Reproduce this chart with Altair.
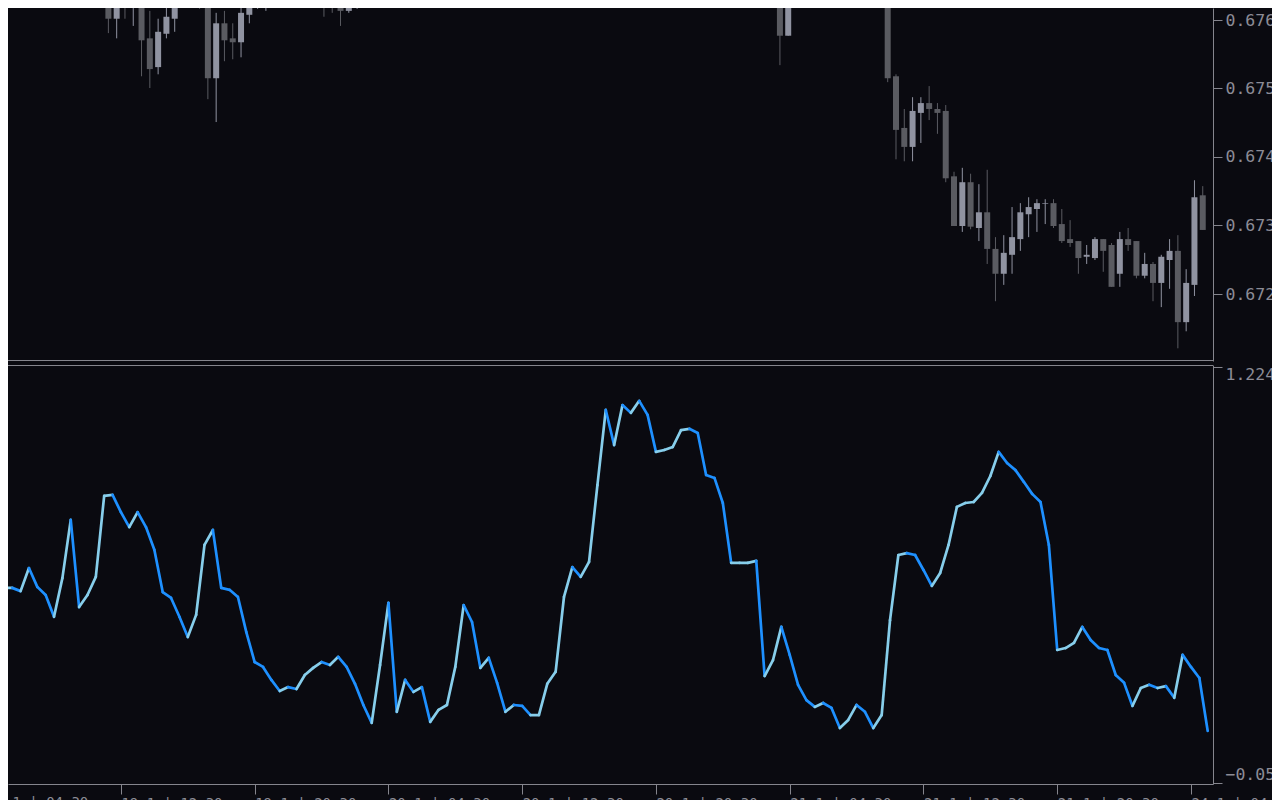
import altair as alt
import pandas as pd

BG = "#0a0a10"
FRAME = "#85858d"
TEXT = "#8c8c96"
CANDLE_UP = "#9093a1"
CANDLE_DN = "#5a5b61"
LINE_UP = "#87ceeb"
LINE_DN = "#1e90ff"

# ---- candles (bar index, open, high, low, close) ----
bar_idx = [9, 13, 14, 15, 16, 17, 18, 19, 20, 21, 24, 25, 26, 27, 28, 29, 30, 31, 32,
           38, 39, 40, 41, 42, 43, 93, 94, 95,
           107, 108, 109, 110, 111, 112, 113, 114, 115, 116, 117, 118, 119, 120, 121,
           122, 123, 124, 125, 126, 127, 128, 129, 130, 131, 132, 133, 134, 135, 136,
           137, 138, 139, 140, 141, 142, 143, 144, 145]
opens = [0.67704, 0.67696, 0.67652, 0.67693, 0.67676, 0.67688, 0.67622, 0.67578, 0.67629, 0.67652,
         0.67711, 0.67696, 0.67561, 0.67645, 0.67622, 0.67616, 0.67658, 0.67670, 0.67688,
         0.67696, 0.67704, 0.67688, 0.67673, 0.67664, 0.67685, 0.67696, 0.67696, 0.67626,
         0.67688, 0.67564, 0.67485, 0.67456, 0.67508, 0.67523, 0.67514, 0.67511, 0.67411,
         0.67335, 0.67402, 0.67332, 0.67356, 0.67300, 0.67262, 0.67291, 0.67315, 0.67353,
         0.67361, 0.67369, 0.67370, 0.67338, 0.67315, 0.67312, 0.67288, 0.67286, 0.67315,
         0.67306, 0.67262, 0.67315, 0.67312, 0.67259, 0.67277, 0.67248, 0.67283, 0.67297,
         0.67188, 0.67245, 0.67382]
highs = [0.67742, 0.67711, 0.67696, 0.67704, 0.67711, 0.67704, 0.67664, 0.67652, 0.67688, 0.67704,
         0.67726, 0.67704, 0.67661, 0.67664, 0.67645, 0.67670, 0.67688, 0.67699, 0.67711,
         0.67719, 0.67711, 0.67696, 0.67676, 0.67693, 0.67699, 0.67711, 0.67704, 0.67696,
         0.67696, 0.67567, 0.67514, 0.67532, 0.67532, 0.67549, 0.67523, 0.67520, 0.67418,
         0.67424, 0.67415, 0.67399, 0.67421, 0.67318, 0.67321, 0.67364, 0.67370, 0.67379,
         0.67376, 0.67376, 0.67376, 0.67361, 0.67344, 0.67312, 0.67306, 0.67318, 0.67315,
         0.67309, 0.67326, 0.67332, 0.67312, 0.67294, 0.67280, 0.67291, 0.67315, 0.67321,
         0.67269, 0.67405, 0.67396]
lows = [0.67676, 0.67630, 0.67622, 0.67652, 0.67641, 0.67564, 0.67546, 0.67567, 0.67622, 0.67632,
        0.67667, 0.67529, 0.67494, 0.67587, 0.67590, 0.67593, 0.67645, 0.67667, 0.67664,
        0.67676, 0.67655, 0.67661, 0.67641, 0.67661, 0.67667, 0.67676, 0.67581, 0.67626,
        0.67555, 0.67437, 0.67434, 0.67434, 0.67462, 0.67497, 0.67476, 0.67402, 0.67335,
        0.67326, 0.67330, 0.67312, 0.67277, 0.67220, 0.67245, 0.67262, 0.67297, 0.67318,
        0.67326, 0.67338, 0.67332, 0.67309, 0.67303, 0.67262, 0.67277, 0.67283, 0.67265,
        0.67242, 0.67242, 0.67297, 0.67255, 0.67255, 0.67220, 0.67211, 0.67239, 0.67148,
        0.67174, 0.67228, 0.67329]
closes = [0.67726, 0.67652, 0.67688, 0.67676, 0.67696, 0.67619, 0.67575, 0.67632, 0.67655, 0.67688,
          0.67696, 0.67561, 0.67645, 0.67619, 0.67616, 0.67661, 0.67673, 0.67688, 0.67699,
          0.67708, 0.67688, 0.67670, 0.67664, 0.67685, 0.67693, 0.67704, 0.67626, 0.67688,
          0.67561, 0.67482, 0.67456, 0.67511, 0.67523, 0.67514, 0.67508, 0.67408, 0.67335,
          0.67402, 0.67334, 0.67356, 0.67300, 0.67262, 0.67294, 0.67318, 0.67356, 0.67364,
          0.67370, 0.67370, 0.67335, 0.67312, 0.67309, 0.67286, 0.67291, 0.67315, 0.67297,
          0.67242, 0.67315, 0.67306, 0.67259, 0.67277, 0.67248, 0.67288, 0.67297, 0.67188,
          0.67248, 0.67379, 0.67329]

# ---- oscillator values for bars 1..145 ----
osc_first_bar = 1
osc_vals = [0.544, 0.544, 0.534, 0.605, 0.547, 0.522, 0.455, 0.574, 0.753, 0.485,
            0.522, 0.578, 0.827, 0.830, 0.777, 0.731, 0.777, 0.731, 0.661, 0.531,
            0.513, 0.455, 0.393, 0.461, 0.676, 0.722, 0.544, 0.538, 0.516, 0.408,
            0.316, 0.301, 0.261, 0.227, 0.239, 0.233, 0.276, 0.298, 0.316, 0.307,
            0.332, 0.301, 0.249, 0.184, 0.129, 0.307, 0.498, 0.163, 0.261, 0.224,
            0.239, 0.132, 0.169, 0.184, 0.301, 0.491, 0.439, 0.298, 0.329, 0.252,
            0.163, 0.184, 0.181, 0.153, 0.153, 0.249, 0.286, 0.516, 0.608, 0.578,
            0.624, 0.860, 1.091, 0.983, 1.106, 1.082, 1.119, 1.076, 0.962, 0.968,
            0.977, 1.029, 1.033, 1.020, 0.891, 0.882, 0.805, 0.621, 0.621, 0.621,
            0.627, 0.273, 0.322, 0.424, 0.338, 0.246, 0.199, 0.178, 0.190, 0.175,
            0.113, 0.138, 0.184, 0.163, 0.113, 0.153, 0.445, 0.645, 0.651, 0.645,
            0.599, 0.550, 0.590, 0.676, 0.793, 0.805, 0.808, 0.836, 0.888, 0.962,
            0.928, 0.906, 0.870, 0.833, 0.808, 0.676, 0.353, 0.359, 0.375, 0.424,
            0.384, 0.359, 0.353, 0.276, 0.252, 0.181, 0.236, 0.246, 0.236, 0.242,
            0.206, 0.338, 0.301, 0.267, 0.104]

price_ticks = [0.67650, 0.67546, 0.67441, 0.67336, 0.67231]
osc_ticks = [-0.055, 1.224]
time_ticks = [15, 31, 47, 63, 79, 95, 111, 127, 143]
time_labels = ["19.1 | 12:30", "19.1 | 20:30", "20.1 | 04:30", "20.1 | 12:30", "20.1 | 20:30",
               "21.1 | 04:30", "21.1 | 12:30", "21.1 | 20:30", "24.1 | 04:30"]
# label of the tick just left of the visible window (only partly shown)
edge_tick = [-1]
edge_label = ["19.1 | 04:30"]

# ---- layout constants ----
W = 1205
H_TOP = 353
H_BOT = 419
X_DOMAIN = [1.4952, 145.634]
PRICE_DOMAIN = [0.671286, 0.676684]
OSC_DOMAIN = [-0.05899, 1.22923]
LABEL_FONT = "DejaVu Sans Mono"

candles = pd.DataFrame({"i": bar_idx, "o": opens, "h": highs, "l": lows, "c": closes})
candles["dir"] = ["bull" if c >= o else "bear" for o, c in zip(opens, closes)]

seg_rows = []
for k in range(1, len(osc_vals)):
    v0, v1 = osc_vals[k - 1], osc_vals[k]
    seg_rows.append({"i0": osc_first_bar + k - 1, "i1": osc_first_bar + k,
                     "v0": v0, "v1": v1, "dir": "rise" if v1 >= v0 else "fall"})
segs = pd.DataFrame(seg_rows)

xscale = alt.Scale(domain=X_DOMAIN, nice=False, zero=False)
cscale = alt.Scale(domain=["bull", "bear"], range=[CANDLE_UP, CANDLE_DN])
lscale = alt.Scale(domain=["rise", "fall"], range=[LINE_UP, LINE_DN])

price_axis = alt.Axis(orient="right", values=price_ticks, format=".4f", grid=False,
                      domain=True, domainColor=FRAME, tickColor=FRAME, tickSize=9,
                      labelPadding=3, labelColor=TEXT, labelFontSize=16.5,
                      labelFont=LABEL_FONT, labelFlush=False, title=None)

base_c = alt.Chart(candles)
wicks = base_c.mark_rule(strokeWidth=1, clip=True).encode(
    x=alt.X("i:Q", scale=xscale, axis=None),
    y=alt.Y("l:Q", scale=alt.Scale(domain=PRICE_DOMAIN, nice=False, zero=False), axis=price_axis),
    y2="h:Q",
    color=alt.Color("dir:N", scale=cscale, legend=None),
)
bodies = base_c.mark_bar(size=6, clip=True).encode(
    x=alt.X("i:Q", scale=xscale, axis=None),
    y=alt.Y("o:Q"),
    y2="c:Q",
    color=alt.Color("dir:N", scale=cscale, legend=None),
)
top_border = alt.Chart(pd.DataFrame({"a": [0]})).mark_rule(color=FRAME, strokeWidth=1).encode(
    x=alt.value(0), x2=alt.value(W), y=alt.value(H_TOP - 0.5)
)
top = alt.layer(wicks, bodies, top_border).properties(width=W, height=H_TOP)

label_expr = "[" + ",".join("'" + s + "'" for s in time_labels) + "][(datum.value - 15) / 16]"
time_axis = alt.Axis(values=time_ticks, labelExpr=label_expr, grid=False, domain=True,
                     domainColor=FRAME, tickColor=FRAME, tickSize=10, labelPadding=2,
                     labelAlign="left", labelBaseline="top", labelColor=TEXT,
                     labelFontSize=14, labelFont=LABEL_FONT, labelFlush=False,
                     labelOverlap=False, title=None)
osc_axis = alt.Axis(orient="right", values=osc_ticks, format=".4f", grid=False,
                    domain=True, domainColor=FRAME, tickColor=FRAME, tickSize=9,
                    labelPadding=3, labelColor=TEXT, labelFontSize=16.5,
                    labelFont=LABEL_FONT, labelFlush=5, title=None)

lines = alt.Chart(segs).mark_rule(strokeWidth=2.7, strokeCap="round", clip=True).encode(
    x=alt.X("i0:Q", scale=xscale, axis=time_axis),
    x2="i1:Q",
    y=alt.Y("v0:Q", scale=alt.Scale(domain=OSC_DOMAIN, nice=False, zero=False), axis=osc_axis),
    y2="v1:Q",
    color=alt.Color("dir:N", scale=lscale, legend=None),
)
bot_border = alt.Chart(pd.DataFrame({"a": [0]})).mark_rule(color=FRAME, strokeWidth=1).encode(
    x=alt.value(0), x2=alt.value(W), y=alt.value(0.5)
)
edge_text = alt.Chart(pd.DataFrame({"t": edge_tick, "lab": edge_label})).mark_text(
    align="left", baseline="top", font=LABEL_FONT, fontSize=14, color=TEXT
).encode(
    x=alt.X("t:Q", scale=xscale),
    y=alt.value(H_BOT + 12),
    text="lab:N",
)
bottom = alt.layer(lines, bot_border, edge_text).properties(width=W, height=H_BOT)

chart = alt.vconcat(top, bottom, spacing=4, bounds="flush").resolve_scale(
    x="independent", y="independent", color="independent"
).properties(
    autosize=alt.AutoSizeParams(type="none"),
    padding={"left": 0, "top": 0, "right": 1264 - W, "bottom": 792},
    background=BG,
).configure_view(stroke=None)

chart.save("out.html", embed_options={"renderer": "svg", "actions": False})
